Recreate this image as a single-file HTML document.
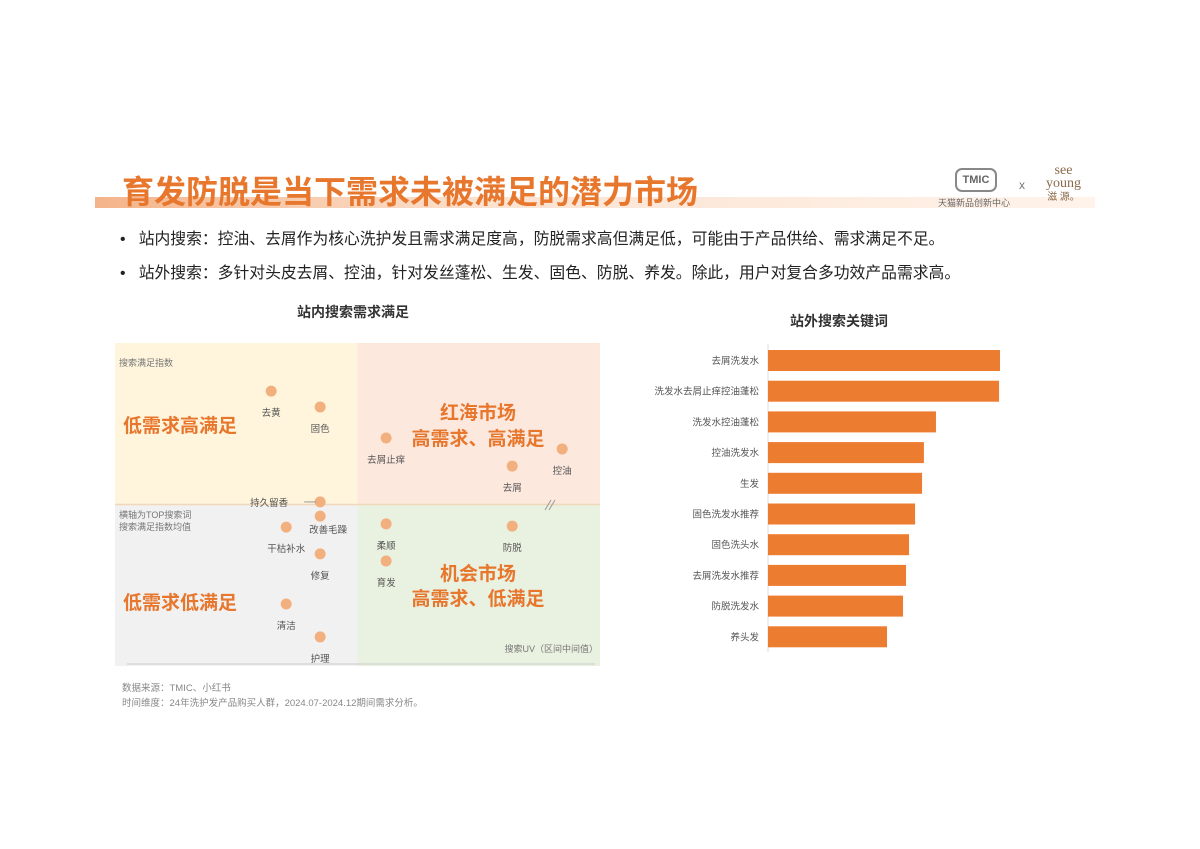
<!DOCTYPE html>
<html><head><meta charset="utf-8"><style>
body{margin:0;width:1200px;height:849px;background:#fff;position:relative;overflow:hidden;font-family:"Liberation Sans","Noto Sans CJK SC",sans-serif;}
.abs{position:absolute;white-space:nowrap;}
</style></head><body>
<div class="abs" style="left:95px;top:197px;width:1000px;height:11px;background:linear-gradient(90deg,#f4b48a 0%,#fbe3d2 40%,#fff3ea 100%);"></div>
<div class="abs" style="left:122px;top:167px;font-size:32px;font-weight:bold;color:#e8772e;">育发防脱是当下需求未被满足的潜力市场</div>
<div class="abs" style="left:955px;top:168px;width:38px;height:20px;border:2px solid #888;border-radius:7px;font-size:11px;font-weight:bold;color:#666;text-align:center;line-height:20px;">TMIC</div>
<div class="abs" style="left:938px;top:196px;font-size:9px;color:#666;">天猫新品创新中心</div>
<div class="abs" style="left:1019px;top:178px;font-size:12px;color:#777;">x</div>
<div class="abs" style="left:1046px;top:164px;font-size:14px;line-height:13px;color:#8a6a4a;font-family:'Liberation Serif',serif;text-align:center;">see<br>young<br><span style="font-size:10px;">滋 源。</span></div>
<div class="abs" style="left:120px;top:226px;font-size:15.8px;color:#222;">•&nbsp;&nbsp;&nbsp;站内搜索：控油、去屑作为核心洗护发且需求满足度高，防脱需求高但满足低，可能由于产品供给、需求满足不足。</div>
<div class="abs" style="left:120px;top:260px;font-size:15.8px;color:#222;">•&nbsp;&nbsp;&nbsp;站外搜索：多针对头皮去屑、控油，针对发丝蓬松、生发、固色、防脱、养发。除此，用户对复合多功效产品需求高。</div>
<div class="abs" style="left:297px;top:302px;font-size:14px;font-weight:bold;color:#333;">站内搜索需求满足</div>
<div class="abs" style="left:790px;top:311px;font-size:14px;font-weight:bold;color:#333;">站外搜索关键词</div>
<svg class="abs" style="left:0;top:0" width="1200" height="849" id="svg"></svg>
<div class="abs" style="left:122px;top:681px;font-size:9.5px;color:#888;line-height:15px;">数据来源：TMIC、小红书<br>时间维度：24年洗护发产品购买人群，2024.07-2024.12期间需求分析。</div>
<script>
const ns='http://www.w3.org/2000/svg';
const svg=document.getElementById('svg');
function mk(t,a,p){const e=document.createElementNS(ns,t);for(const k in a)e.setAttribute(k,a[k]);(p||svg).appendChild(e);return e;}
// scatter data
const ptNames=['去黄','固色','去屑止痒','控油','去屑','持久留香','改善毛躁','干枯补水','修复','清洁','护理','柔顺','防脱','育发'];
const ptX=[32.2,42.3,55.9,92.2,81.9,42.3,42.3,35.3,42.3,35.3,42.3,55.9,81.9,55.9];
const ptY=[85.1,80.2,70.6,67.2,61.9,50.8,46.4,43.0,34.7,19.2,9.0,44.0,43.3,32.5];
const lblDx=[0,0,0,0,0,-32,8,0,0,0,0,0,0,0];
const lblDy=[25,25,25,25,25,4,17,25,25,25,25,25,25,25];
const X0=115,X1=600,Y0=666,Y1=343;
const sx=v=>X0+(X1-X0)*v/100, sy=v=>Y0-(Y0-Y1)*v/100;
const midX=50,midY=50;
let r;
r=mk('rect',{x:sx(0),y:sy(100),width:sx(midX)-sx(0),height:sy(midY)-sy(100),fill:'#fff5dc'});
r=mk('rect',{x:sx(midX),y:sy(100),width:sx(100)-sx(midX),height:sy(midY)-sy(100),fill:'#fde8de'});
r=mk('rect',{x:sx(0),y:sy(midY),width:sx(midX)-sx(0),height:sy(0)-sy(midY),fill:'#f1f1f1'});
r=mk('rect',{x:sx(midX),y:sy(midY),width:sx(100)-sx(midX),height:sy(0)-sy(midY),fill:'#e9f1e0'});
r=mk('line',{x1:sx(0),x2:sx(100),y1:sy(midY),y2:sy(midY),stroke:'#f0d8b8','stroke-width':1.5});
r=mk('line',{x1:X0+12,x2:X1-5,y1:Y0-2,y2:Y0-2,stroke:'#ccc','stroke-width':1});
function txt(x,y,s,size,col,w,anchor,name){const t=mk('text',{x:x,y:y,'font-size':size,fill:col,'font-weight':w||'normal','text-anchor':anchor||'start','font-family':'Liberation Sans, Noto Sans CJK SC, sans-serif'});t.textContent=s;return t;}
txt(119,366,'搜索满足指数',9,'#777','normal','start','y-axis-title');
txt(119,518,'横轴为TOP搜索词',9,'#777','normal','start','mid-note-1');
txt(119,530,'搜索满足指数均值',9,'#777','normal','start','mid-note-2');
txt(598,652,'搜索UV（区间中间值）',9,'#777','normal','end','x-axis-title');
txt(123,432,'低需求高满足',19,'#e8772e','bold','start','label-low-high');
txt(123,609,'低需求低满足',19,'#e8772e','bold','start','label-low-low');
txt(478,419,'红海市场',19,'#e8772e','bold','middle','label-red-sea');
txt(478,445,'高需求、高满足',19,'#e8772e','bold','middle','label-high-high');
txt(478,580,'机会市场',19,'#e8772e','bold','middle','label-opportunity');
txt(478,605,'高需求、低满足',19,'#e8772e','bold','middle','label-high-low');
r=mk('path',{d:'M545,510 L551,500 M549,510 L555,500',stroke:'#999','stroke-width':1});
ptNames.forEach((n,i)=>{
 const cx=sx(ptX[i]),cy=sy(ptY[i]);
 const c=mk('circle',{cx:cx,cy:cy,r:5.5,fill:'#f2b07e'});
 
 
 if(i===5){const l=mk('line',{x1:cx-16,x2:cx-4,y1:cy,y2:cy,stroke:'#999'});}
 txt(cx+lblDx[i],cy+lblDy[i],n,9.5,'#555','normal',i===5?'end':'middle','point-label');
});
// bar chart data
const barCats=['去屑洗发水','洗发水去屑止痒控油蓬松','洗发水控油蓬松','控油洗发水','生发','固色洗发水推荐','固色洗头水','去屑洗发水推荐','防脱洗发水','养头发'];
const barVals=[100,99.6,72.4,67.2,66.4,63.4,60.8,59.5,58.2,51.3];
const BX0=768,BX1=1000,BY0=350,BSTEP=30.7,BH=21;
const bx=v=>BX0+(BX1-BX0)*v/100;
r=mk('line',{x1:BX0,x2:BX0,y1:344,y2:652,stroke:'#ddd'});
barCats.forEach((c,i)=>{
 const y=BY0+i*BSTEP;
 const b=mk('rect',{x:BX0,y:y,width:bx(barVals[i])-BX0,height:BH,fill:'#ec7c30'});
 
 
 txt(BX0-9,y+BH/2+3.5,c,9.5,'#555','normal','end','bar-label');
});
</script>
</body></html>
